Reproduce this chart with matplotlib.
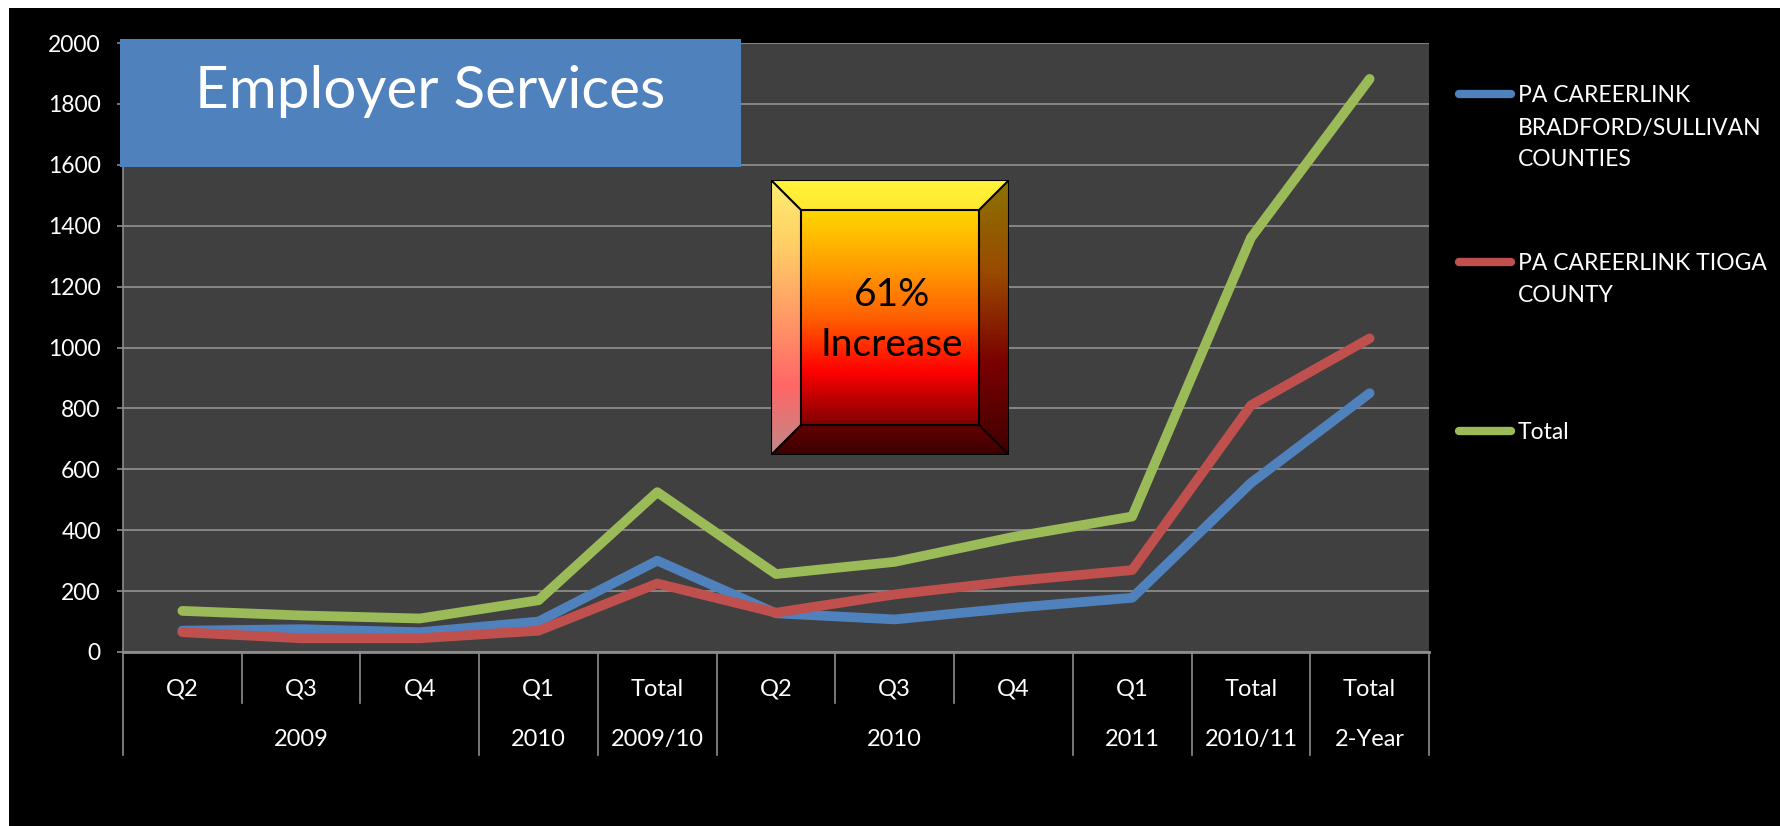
import numpy as np
import matplotlib.pyplot as plt
from matplotlib.patches import Rectangle, Polygon
from matplotlib.lines import Line2D
from matplotlib.colors import LinearSegmentedColormap

plt.rcParams['font.family'] = ['Lato', 'DejaVu Sans']

# categories (two-level axis)
quarters = ['Q2', 'Q3', 'Q4', 'Q1', 'Total', 'Q2', 'Q3', 'Q4', 'Q1', 'Total', 'Total']
groups = ['2009', '2010', '2009/10', '2010', '2011', '2010/11', '2-Year']
group_sizes = [3, 1, 1, 3, 1, 1, 1]

# series values
bradford = [70, 75, 65, 100, 300, 127, 107, 145, 178, 555, 850]
tioga = [65, 45, 45, 70, 225, 129, 189, 233, 269, 810, 1030]
total = [135, 120, 110, 170, 525, 256, 296, 378, 445, 1360, 1882]

series = [bradford, tioga, total]
series_labels = ['PA CAREERLINK\nBRADFORD/SULLIVAN\nCOUNTIES', 'PA CAREERLINK TIOGA\nCOUNTY', 'Total']
series_colors = ['#4F81BD', '#C0504D', '#9BBB59']

title = 'Employer Services'
callout = ['61%', 'Increase']

W, H = 1781, 826
fig = plt.figure(figsize=(W / 100, H / 100), dpi=100, facecolor='white')


def fx(px):
    return px / W


def fy(py):
    return 1 - py / H


# black slide background
fig.patches.append(Rectangle((fx(9), 0), 1 - fx(9), fy(8),
                             transform=fig.transFigure, facecolor='black',
                             edgecolor='none', zorder=-1))

ax = fig.add_axes([fx(123), fy(652), fx(1429) - fx(123), fy(43) - fy(652)])
ax.set_facecolor('#404040')
x = np.arange(len(quarters))
for vals, col in zip(series, series_colors):
    ax.plot(x, vals, color=col, lw=7, solid_capstyle='round',
            solid_joinstyle='round', zorder=3)

ax.set_xlim(-0.5, len(quarters) - 0.5)
ax.set_ylim(0, 2000)
ax.set_yticks(np.arange(0, 2001, 200))
ax.yaxis.grid(True, color='#8C8C8C', lw=1.3)
ax.set_axisbelow(True)
for s in ['top', 'right']:
    ax.spines[s].set_visible(False)
ax.spines['left'].set_color('#8C8C8C')
ax.spines['left'].set_linewidth(1.2)
ax.spines['bottom'].set_color('#8C8C8C')
ax.spines['bottom'].set_linewidth(2)
ax.tick_params(axis='y', colors='#8C8C8C', labelcolor='white', labelsize=16.5,
               length=4, width=1.2, pad=12)
ax.set_xticks([])

# two-level category labels
xt = ax.get_xaxis_transform()
ax_h = 652 - 43
for i, q in enumerate(quarters):
    ax.text(i, (652 - 695.5) / ax_h, q, transform=xt, ha='center', va='baseline',
            color='white', fontsize=17)
edges = np.concatenate([[0], np.cumsum(group_sizes)]) - 0.5
for g, a, b in zip(groups, edges[:-1], edges[1:]):
    ax.text((a + b) / 2, (652 - 746) / ax_h, g, transform=xt, ha='center',
            va='baseline', color='white', fontsize=17)
    for k in np.arange(a + 1, b):
        ax.plot([k, k], [0, (652 - 703) / ax_h], transform=xt, clip_on=False,
                color='#8C8C8C', lw=1.2)
for e in edges:
    ax.plot([e, e], [0, (652 - 755) / ax_h], transform=xt, clip_on=False,
            color='#8C8C8C', lw=1.2)

# legend
leg_y = [94, 262, 431]
for lab, col, yy in zip(series_labels, series_colors, leg_y):
    fig.add_artist(Line2D([fx(1459), fx(1511)], [fy(yy), fy(yy)], color=col,
                          lw=6, solid_capstyle='round', transform=fig.transFigure))
    for j, line in enumerate(lab.split('\n')):
        fig.text(fx(1518), fy(yy + 8.5 + 32 * j), line, color='white',
                 fontsize=16.5, ha='left', va='baseline')

# title banner
fig.patches.append(Rectangle((fx(120), fy(167)), fx(741) - fx(120), fy(39) - fy(167),
                             transform=fig.transFigure, facecolor='#4F81BD',
                             edgecolor='none', zorder=5))
fig.text(fx(430), fy(108), title, color='white', fontsize=42, ha='center',
         va='baseline', zorder=6)

# bevelled callout box
bx = fig.add_axes([fx(771), fy(455), fx(1009) - fx(771), fy(180) - fy(455)], zorder=7)
bx.axis('off')
bw, bh, b = 238, 275, 30


def grad_poly(pts, colors):
    xs = [p[0] for p in pts]
    ys = [p[1] for p in pts]
    cmap = LinearSegmentedColormap.from_list('g', colors)
    grad = np.linspace(0, 1, 256).reshape(-1, 1)
    im = bx.imshow(grad, cmap=cmap, extent=(min(xs), max(xs), max(ys), min(ys)),
                   aspect='auto', interpolation='bilinear', origin='upper')
    poly = Polygon(pts, closed=True, facecolor='none', edgecolor='none')
    bx.add_patch(poly)
    im.set_clip_path(poly)


o = [(0, 0), (bw, 0), (bw, bh), (0, bh)]
i_ = [(b, b), (bw - b, b), (bw - b, bh - b), (b, bh - b)]
grad_poly([o[0], o[1], i_[1], i_[0]], ['#FFF43A', '#FFE830'])
grad_poly([o[0], i_[0], i_[3], o[3]], ['#FFEE70', '#FFCC66', '#FF9966', '#FF6666', '#C08888'])
grad_poly([o[1], o[2], i_[2], i_[1]], ['#8B7300', '#9A4A00', '#7A0000', '#400000'])
grad_poly([i_[3], i_[2], o[2], o[3]], ['#620000', '#3C0000'])
grad_poly(i_, ['#FFD700', '#FFA000', '#FF6000', '#FF0000', '#800000'])
for poly in [o, i_]:
    bx.add_patch(Polygon(poly, closed=True, facecolor='none', edgecolor='black', lw=1.5))
for p, q in zip(o, i_):
    bx.plot([p[0], q[0]], [p[1], q[1]], color='black', lw=1.5)
bx.text(121, 126.5, callout[0], ha='center', va='baseline', fontsize=28, color='black')
bx.text(121, 175.5, callout[1], ha='center', va='baseline', fontsize=28, color='black')
bx.set_xlim(0, bw)
bx.set_ylim(bh, 0)

fig.savefig('out.png', dpi=100, facecolor=fig.get_facecolor())
